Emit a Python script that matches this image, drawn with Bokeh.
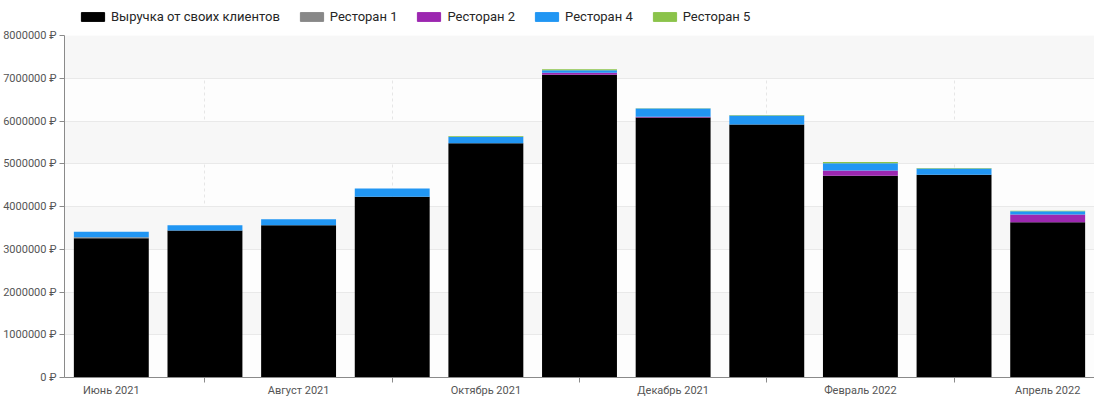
from bokeh.plotting import figure
from bokeh.layouts import column
from bokeh.models import ColumnDataSource, FixedTicker, Legend, LegendItem, Range1d
from bokeh.embed import file_html
from bokeh.resources import INLINE

months = ["Июнь 2021", "Июль 2021", "Август 2021", "Сентябрь 2021", "Октябрь 2021",
          "Ноябрь 2021", "Декабрь 2021", "Январь 2022", "Февраль 2022", "Март 2022", "Апрель 2022"]
own_clients = [3260000, 3440000, 3560000, 4230000, 5480000, 7080000, 6080000, 5920000, 4720000, 4740000, 3630000]
rest1 = [20000, 0, 0, 0, 0, 0, 0, 0, 0, 0, 0]
rest2 = [0, 0, 0, 0, 0, 50000, 20000, 0, 120000, 0, 180000]
rest4 = [130000, 120000, 140000, 190000, 150000, 60000, 190000, 210000, 170000, 150000, 80000]
rest5 = [0, 0, 0, 0, 20000, 20000, 10000, 10000, 30000, 10000, 10000]

series_names = ["Выручка от своих клиентов", "Ресторан 1", "Ресторан 2", "Ресторан 4", "Ресторан 5"]
colors = ["#000000", "#888888", "#9c27b0", "#2196f3", "#8bc34a"]
keys = ["own", "r1", "r2", "r4", "r5"]
y_ticks = [0, 1000000, 2000000, 3000000, 4000000, 5000000, 6000000, 7000000, 8000000]

src = ColumnDataSource(dict(x=list(range(len(months))), own=own_clients, r1=rest1, r2=rest2, r4=rest4, r5=rest5))

FONT = "Roboto"
W = 1094

# ---- legend strip ----
lg = figure(width=W, height=25, output_backend="svg", toolbar_location=None,
            x_range=Range1d(0, 1), y_range=Range1d(0, 1), x_axis_type=None, y_axis_type=None,
            min_border=0)
lg.outline_line_color = None
lg.grid.visible = False
# legend-only swatches, placed far outside the visible range
dummy = [lg.vbar(x=[-50], top=[-50], bottom=[-51], width=0.1, color=c) for c in colors]
legend = Legend(items=[LegendItem(label=n, renderers=[r]) for n, r in zip(series_names, dummy)],
                orientation="horizontal", location=(14, 1))
legend.label_text_font = FONT
legend.label_text_font_size = "13px"
legend.label_text_color = "#262626"
legend.glyph_width = 29
legend.glyph_height = 11
legend.spacing = 17
legend.label_standoff = 4
legend.padding = 0
legend.margin = 0
legend.border_line_color = None
legend.background_fill_alpha = 0
lg.add_layout(legend)

# ---- main chart ----
p = figure(width=W, height=374, output_backend="svg", toolbar_location=None,
           x_range=Range1d(-0.5, len(months) - 0.5), y_range=Range1d(0, 8000000))
p.min_border_left = 0
p.min_border_right = 0
p.min_border_top = 10
p.min_border_bottom = 0
p.outline_line_color = None
p.background_fill_color = "#fdfdfd"

p.vbar_stack(keys, x="x", width=0.8, source=src, color=colors, line_color=None)

p.yaxis.ticker = FixedTicker(ticks=y_ticks)
p.yaxis.major_label_overrides = {t: f"{t} ₽" for t in y_ticks}
p.yaxis.axis_line_color = "#8a8a8a"
p.yaxis.major_tick_line_color = "#8a8a8a"
p.yaxis.major_tick_in = 0
p.yaxis.major_tick_out = 5
p.yaxis.minor_tick_line_color = None
p.yaxis.major_label_text_font = FONT
p.yaxis.major_label_text_font_size = "11px"
p.yaxis.major_label_text_color = "#555555"
p.yaxis.major_label_standoff = 3

all_idx = list(range(len(months)))
even = [i for i in all_idx if i % 2 == 0]
odd = [i for i in all_idx if i % 2 == 1]
p.xaxis.ticker = FixedTicker(ticks=even, minor_ticks=odd)
p.xaxis.major_label_overrides = {i: months[i] for i in all_idx}
p.xaxis.axis_line_color = "#8a8a8a"
p.xaxis.major_tick_line_color = None
p.xaxis.minor_tick_line_color = "#8a8a8a"
p.xaxis.minor_tick_in = 0
p.xaxis.minor_tick_out = 5
p.xaxis.major_label_text_font = FONT
p.xaxis.major_label_text_font_size = "11px"
p.xaxis.major_label_text_color = "#555555"
p.xaxis.major_label_standoff = 0

p.ygrid.ticker = FixedTicker(ticks=y_ticks[1:])
p.ygrid.grid_line_color = "#e9e9e9"
p.ygrid.band_fill_color = "#f7f7f7"
p.ygrid.band_fill_alpha = 1.0
p.xgrid.ticker = FixedTicker(ticks=odd)
p.xgrid.grid_line_color = "#e6e6e6"
p.xgrid.grid_line_dash = "3 3"

layout = column(lg, p, spacing=0)
open("out.html", "w").write(file_html(layout, INLINE))
